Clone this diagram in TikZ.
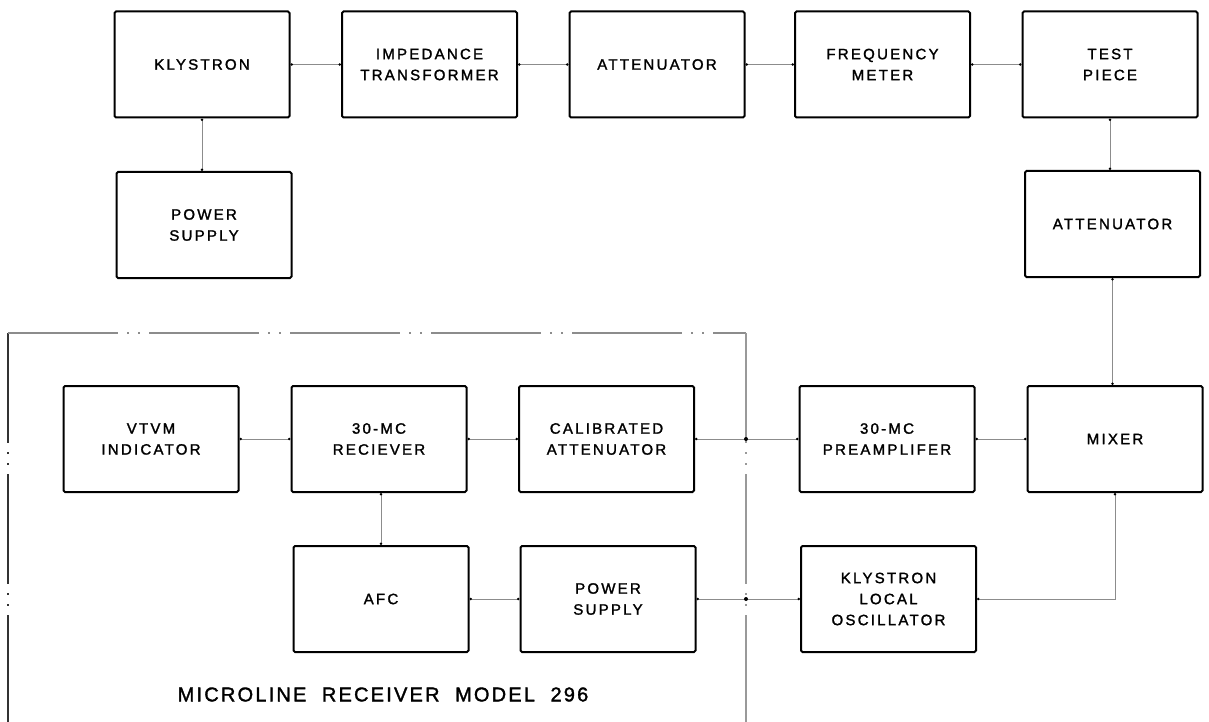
\documentclass[tikz,border=0pt]{standalone}
\usepackage{fontspec}
\setmainfont{Liberation Sans}
\newfontfamily\lblfont[LetterSpace=15,FakeBold=1.6]{Liberation Sans}
\newfontfamily\ttlfont[LetterSpace=11,FakeBold=1.6]{Liberation Sans}
\usetikzlibrary{arrows.meta}
\begin{document}
\begin{tikzpicture}[x=1pt,y=-1pt,
  blk/.style={draw, line width=2pt, rounded corners=1.5pt, minimum width=175pt,
    minimum height=106pt, align=center, inner sep=0pt,
    font=\lblfont\fontsize{15}{21}\selectfont},
  wire/.style={line width=1pt, black!45,
    {Circle[length=2.5pt,black]}-{Circle[length=2.5pt,black]}},
  jdot/.style={circle, fill=black, inner sep=0pt, minimum size=4pt},
  frame/.style={line width=1.2pt, dash pattern=on 110pt off 9pt on 2pt off 9pt on 2pt off 9pt}
]
\useasboundingbox (0,0) rectangle (1209,722);

% microline receiver enclosure
\coordinate (fTL) at (8,333);
\coordinate (fTR) at (746,333);
\coordinate (fBL) at (8,722);
\coordinate (fBR) at (746,722);
\draw[frame, black!80] (fTL) -- (fBL);
\draw[frame, black!45] (fTL) -- (fTR);
\draw[frame, black!40] (fTR) -- (fBR);

% top row
\node[blk] (kly)  at (202,64.5)   {KLYSTRON};
\node[blk] (imp)  at (429.5,64.5) {IMPEDANCE\\TRANSFORMER};
\node[blk] (att1) at (657,64.5)   {ATTENUATOR};
\node[blk] (freq) at (882.5,64.5) {FREQUENCY\\METER};
\node[blk] (test) at (1110,64.5)  {TEST\\PIECE};

% second row
\node[blk] (ps1)  at (204,225)    {POWER\\SUPPLY};
\node[blk] (att2) at (1112.5,224) {ATTENUATOR};

% third row
\node[blk] (vtvm) at (151,439)    {VTVM\\INDICATOR};
\node[blk] (rcv)  at (379,439)    {30-MC\\RECIEVER};
\node[blk] (cal)  at (606.5,439)  {CALIBRATED\\ATTENUATOR};
\node[blk] (pre)  at (887,439)    {30-MC\\PREAMPLIFER};
\node[blk] (mix)  at (1115,439)   {MIXER};

% fourth row
\node[blk] (afc)  at (381,599)    {AFC};
\node[blk] (ps2)  at (608,599)    {POWER\\SUPPLY};
\node[blk] (klo)  at (888.5,599)  {KLYSTRON\\LOCAL\\OSCILLATOR};

\node[font=\ttlfont\fontsize{20}{24}\selectfont, anchor=center] (title) at (383,694.5)
  {MICROLINE\ \ RECEIVER\ \ MODEL\ \ 296};

% connectors
\draw[wire] (kly) -- (imp);
\draw[wire] (imp) -- (att1);
\draw[wire] (att1) -- (freq);
\draw[wire] (freq) -- (test);
\draw[wire] (kly.south) -- (kly.south |- ps1.north);
\draw[wire] (test.south) -- (test.south |- att2.north);
\draw[wire] (att2.south) -- (att2.south |- mix.north);
\draw[wire] (vtvm) -- (rcv);
\draw[wire] (rcv) -- (cal);
\draw[wire] (cal) -- (pre);
\draw[wire] (pre) -- (mix);
\draw[wire] (afc.north) -- (afc.north |- rcv.south);
\draw[wire] (afc) -- (ps2);
\draw[wire] (ps2) -- (klo);
\coordinate (mxc) at (mix.south |- klo.east);
\draw[wire] (mix.south) -- (mxc) -- (klo.east);

% junction dots on the enclosure line
\node[jdot] (j1) at (fTR |- cal.east) {};
\node[jdot] (j2) at (fTR |- ps2.east) {};
\end{tikzpicture}
\end{document}
